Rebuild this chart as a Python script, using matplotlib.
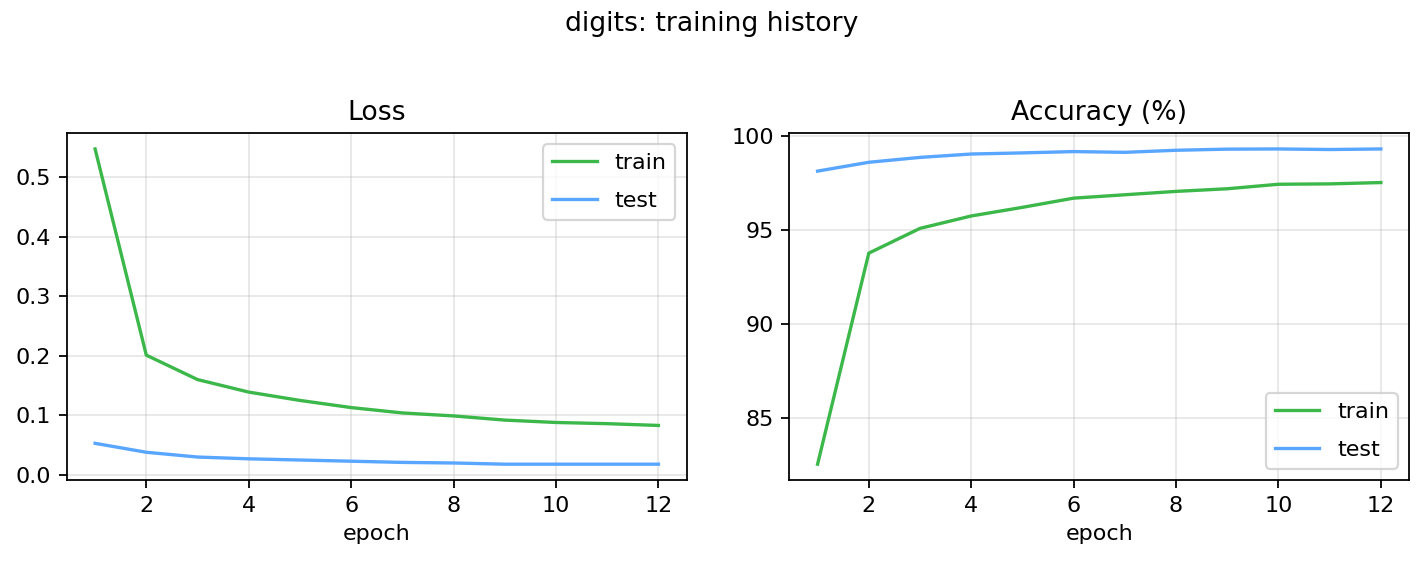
import matplotlib
matplotlib.use("Agg")
import matplotlib.pyplot as plt
from matplotlib.ticker import MultipleLocator

# historique d'entraînement
epochs = list(range(1, 13))
train_loss = [0.547, 0.201, 0.160, 0.139, 0.125, 0.113, 0.104, 0.099, 0.092, 0.088, 0.086, 0.083]
test_loss = [0.053, 0.038, 0.030, 0.027, 0.025, 0.023, 0.021, 0.020, 0.018, 0.018, 0.018, 0.018]
train_acc = [82.54, 93.78, 95.10, 95.76, 96.22, 96.71, 96.89, 97.07, 97.21, 97.45, 97.47, 97.54]
test_acc = [98.15, 98.62, 98.88, 99.06, 99.12, 99.19, 99.15, 99.26, 99.32, 99.33, 99.30, 99.33]

GREEN = "#3cb84a"
BLUE = "#58a6ff"
DPI = 160

fig, (ax1, ax2) = plt.subplots(1, 2, figsize=(1424 / DPI, 562 / DPI), dpi=DPI)

ax1.plot(epochs, train_loss, color=GREEN, label="train")
ax1.plot(epochs, test_loss, color=BLUE, label="test")
ax1.set_title("Loss")
ax1.set_xlabel("epoch")
ax1.grid(True, alpha=0.3)
ax1.legend(loc="upper right", labelspacing=0.8)

ax2.plot(epochs, train_acc, color=GREEN, label="train")
ax2.plot(epochs, test_acc, color=BLUE, label="test")
ax2.set_title("Accuracy (%)")
ax2.set_xlabel("epoch")
ax2.yaxis.set_major_locator(MultipleLocator(5))
ax2.grid(True, alpha=0.3)
ax2.legend(loc="lower right", labelspacing=0.8)

fig.suptitle("digits: training history")
fig.subplots_adjust(left=0.047, right=0.9895, top=0.763, bottom=0.146, wspace=0.166)
fig.savefig("out.png", dpi=DPI)
